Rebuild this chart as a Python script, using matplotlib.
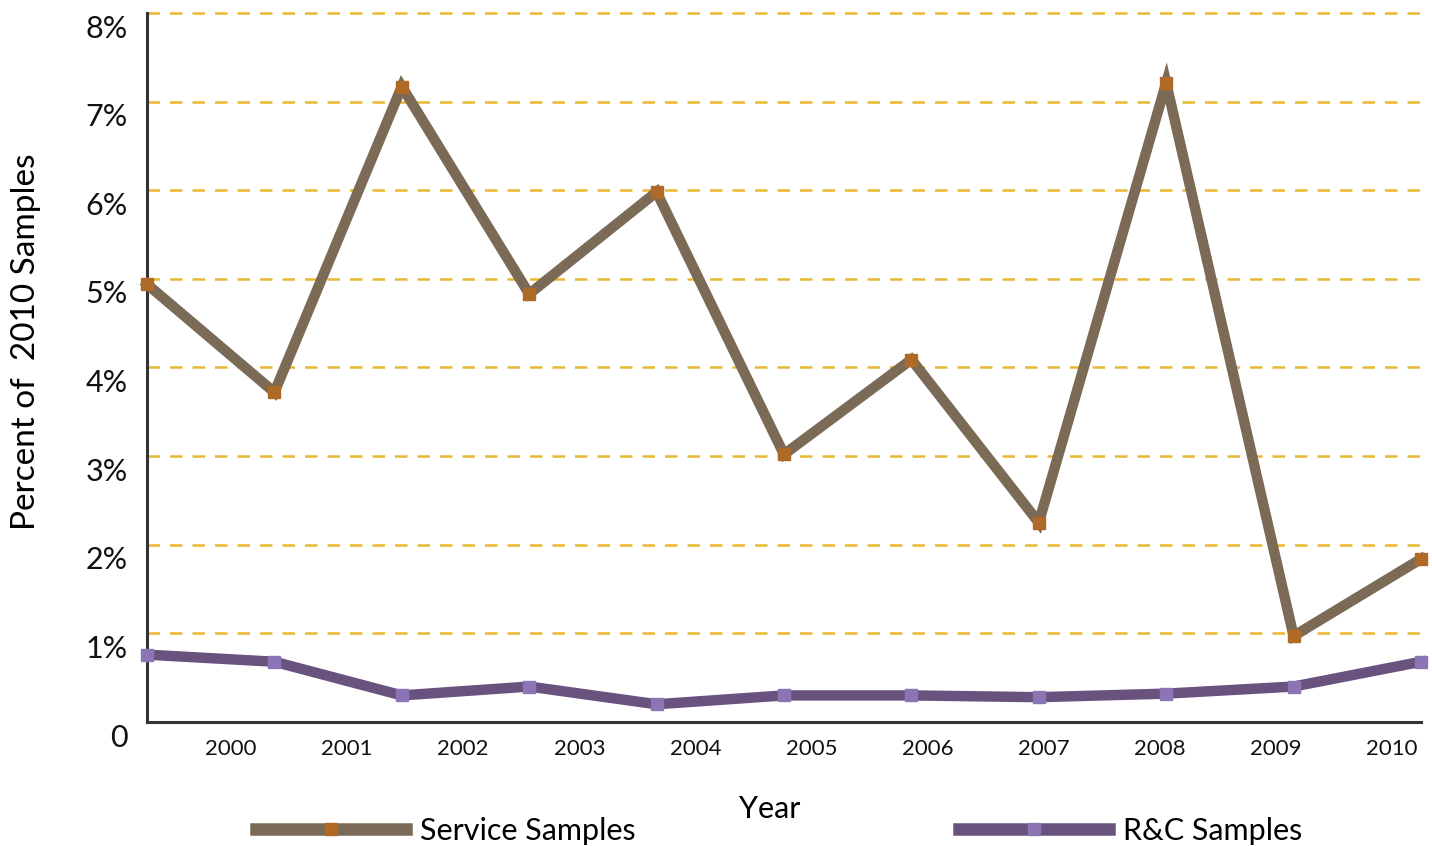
import matplotlib.pyplot as plt
from matplotlib.ticker import FixedLocator
from matplotlib.transforms import ScaledTranslation

plt.rcParams['font.family'] = ['Lato', 'DejaVu Sans']

years = ["2000", "2001", "2002", "2003", "2004", "2005",
         "2006", "2007", "2008", "2009", "2010"]
service = [4.94, 3.72, 7.17, 4.83, 5.98, 3.02, 4.09, 2.25, 7.21, 0.97, 1.84]
rc = [0.76, 0.68, 0.30, 0.40, 0.20, 0.30, 0.30, 0.28, 0.32, 0.40, 0.68]
y_ticks = [0, 1, 2, 3, 4, 5, 6, 7, 8]
y_labels = ["0", "1%", "2%", "3%", "4%", "5%", "6%", "7%", "8%"]

fig = plt.figure(figsize=(14.32, 8.46), dpi=100)
ax = fig.add_axes([147 / 1432, 124 / 846, (1421 - 147) / 1432, (722 - 13) / 846])

x = list(range(len(years)))
ax.plot(x, service, color="#7B6A55", linewidth=7.5, solid_joinstyle="miter",
        marker="s", markersize=8.5, markerfacecolor="#B06A28",
        markeredgecolor="#B06A28", label="Service Samples", zorder=3,
        clip_on=False)
ax.plot(x, rc, color="#6A527E", linewidth=7.5, solid_joinstyle="miter",
        marker="s", markersize=8.5, markerfacecolor="#8B75B5",
        markeredgecolor="#8B75B5", label="R&C Samples", zorder=3,
        clip_on=False)

ax.set_xlim(0, 10)
ax.set_ylim(0, 8)

# year labels in the source sit between the data points
ax.xaxis.set_major_locator(FixedLocator([0.66 + 0.911 * i for i in range(len(years))]))
ax.set_xticklabels(years, fontsize=16)
ax.set_yticks(y_ticks)
ax.set_yticklabels(y_labels, fontsize=22)
ax.tick_params(axis="both", length=0, colors="#111111")
ax.tick_params(axis="x", pad=12)
ax.tick_params(axis="y", pad=14)

# percent labels sit a bit below their gridlines
shift = ScaledTranslation(0, -13 / 100, fig.dpi_scale_trans)
for lbl in ax.get_yticklabels():
    lbl.set_transform(lbl.get_transform() + shift)

for v in y_ticks[1:]:
    ax.axhline(v, color="#E8B830", linewidth=1.8, linestyle=(0, (5, 4)), zorder=1,
               clip_on=False)

for s in ("top", "right"):
    ax.spines[s].set_visible(False)
for s in ("left", "bottom"):
    ax.spines[s].set_color("#333333")
    ax.spines[s].set_linewidth(2.2)

ax.set_ylabel("Percent of  2010 Samples", fontsize=24)
ax.yaxis.set_label_coords(-0.083, 0.536)
ax.set_xlabel("Year", fontsize=22)
ax.xaxis.set_label_coords(0.489, -0.103)

leg = fig.legend(loc="center", bbox_to_anchor=(0.544, 0.018), ncol=2, frameon=False,
                 fontsize=22, handlelength=4.9, handletextpad=0.45, columnspacing=10.6,
                 numpoints=1)
for h in leg.legend_handles:
    h.set_linewidth(9)
    h.set_markersize(9)

fig.savefig("out.png", dpi=100)
